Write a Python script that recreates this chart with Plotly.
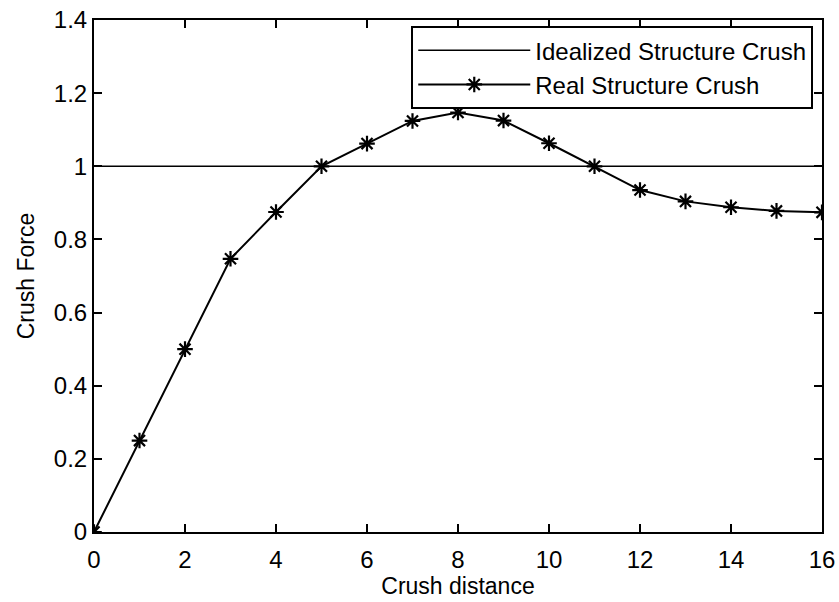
import plotly.graph_objects as go

crush_distance = [0, 1, 2, 3, 4, 5, 6, 7, 8, 9, 10, 11, 12, 13, 14, 15, 16]
real_force = [0, 0.25, 0.5, 0.747, 0.875, 1.0, 1.062, 1.124, 1.147, 1.125, 1.063, 1.0, 0.935, 0.904, 0.888, 0.878, 0.874]
ideal_x = [0, 16]
ideal_force = [1.0, 1.0]
x_ticks = [0, 2, 4, 6, 8, 10, 12, 14, 16]
y_ticks = [0, 0.2, 0.4, 0.6, 0.8, 1.0, 1.2, 1.4]
y_tick_text = ["0", "0.2", "0.4", "0.6", "0.8", "1", "1.2", "1.4"]

FONT = "Liberation Sans, Arial, Helvetica, sans-serif"

fig = go.Figure()
fig.add_trace(go.Scatter(
    x=ideal_x, y=ideal_force, mode="lines", name="Idealized Structure Crush",
    line=dict(color="black", width=1.5),
))
fig.add_trace(go.Scatter(
    x=crush_distance, y=real_force, mode="lines+markers", name="Real Structure Crush",
    line=dict(color="black", width=2),
    marker=dict(symbol="asterisk-open", size=13, color="black", line=dict(color="black", width=2.2)),
))

axis_common = dict(
    showline=True, linecolor="black", linewidth=2, mirror="ticks",
    ticks="inside", ticklen=8, tickwidth=2, tickcolor="black",
    showgrid=False, zeroline=False, automargin=False,
    tickfont=dict(family=FONT, size=24, color="black"),
)

fig.update_xaxes(
    range=[0, 16], tickvals=x_ticks, ticktext=[str(v) for v in x_ticks],
    ticklabelstandoff=5,
    title=dict(text="Crush distance", font=dict(family=FONT, size=23, color="black"), standoff=6),
    **axis_common,
)
fig.update_yaxes(
    range=[0, 1.4], tickvals=y_ticks, ticktext=y_tick_text,
    title=dict(text="Crush Force", font=dict(family=FONT, size=23, color="black"), standoff=13),
    **axis_common,
)

fig.update_layout(
    width=839, height=602,
    margin=dict(l=94, r=17, t=20, b=70),
    paper_bgcolor="white", plot_bgcolor="white",
    font=dict(family=FONT, color="black"),
    legend=dict(
        x=0.988, y=0.988, xanchor="right", yanchor="top",
        bgcolor="white", bordercolor="black", borderwidth=2,
        font=dict(family=FONT, size=24, color="black"),
        itemwidth=112, tracegroupgap=0,
    ),
    showlegend=True,
)

fig.write_html("out.html")
